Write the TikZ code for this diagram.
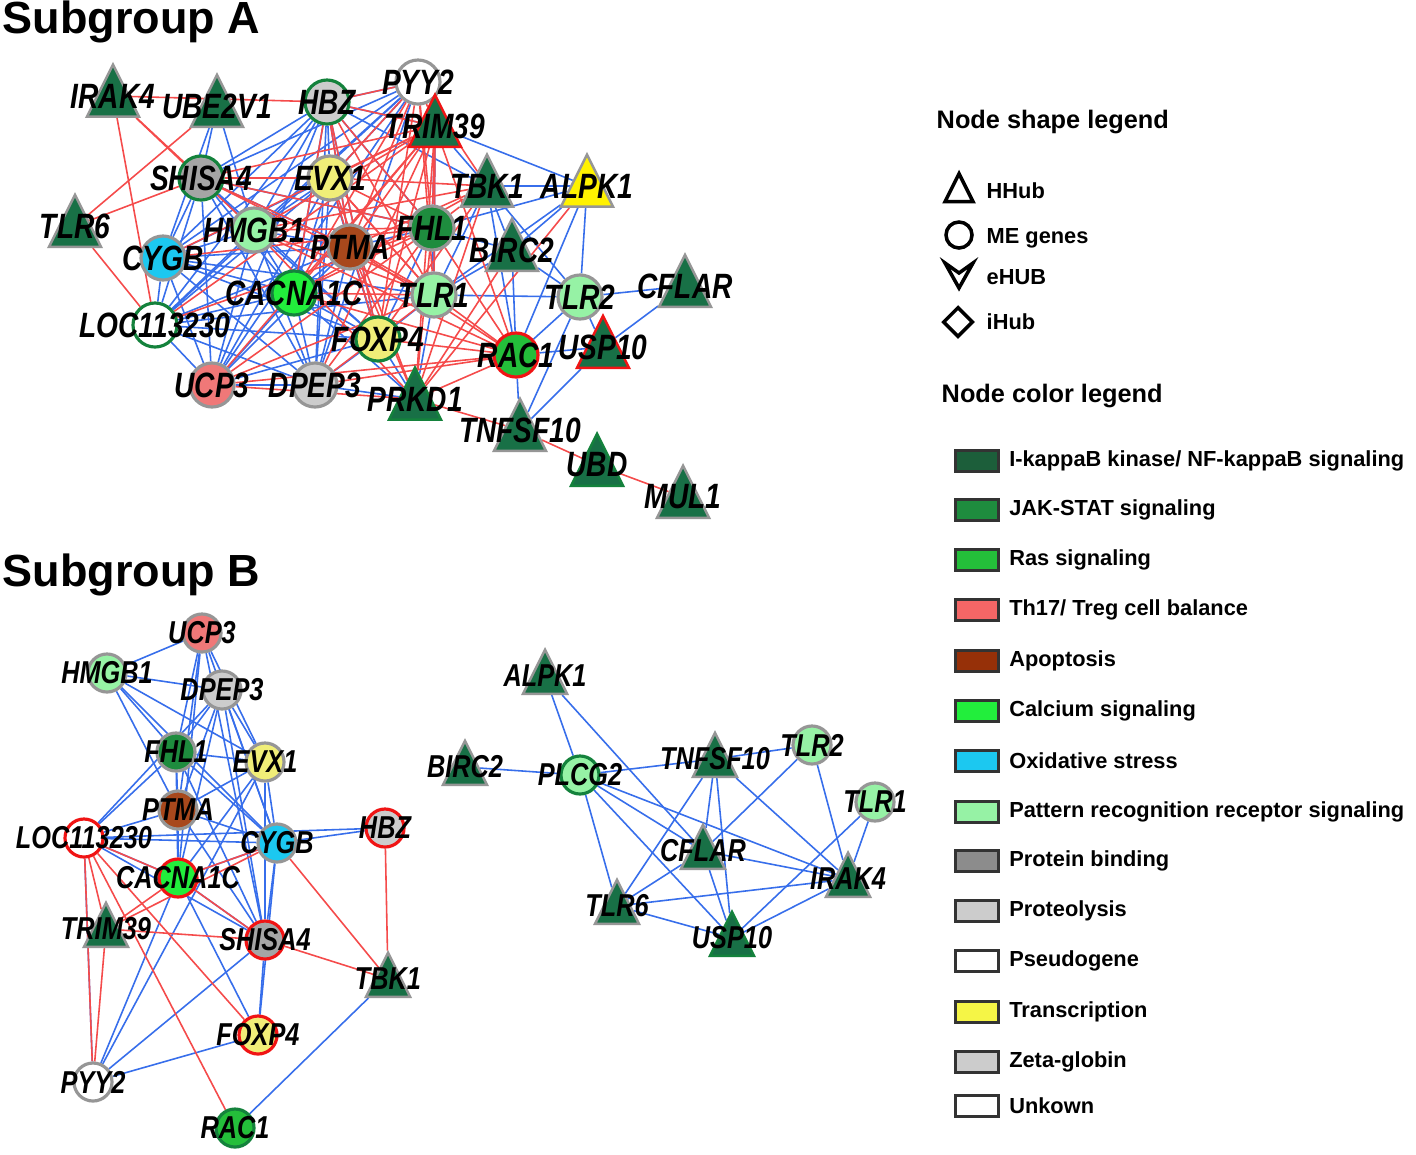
\documentclass[tikz,border=0pt]{standalone}
\usepackage{fontspec}
\setmainfont{Liberation Sans}
\newfontfamily\genefont{Liberation Sans}[FakeStretch=0.8]
\usepackage{tikz}
\usetikzlibrary{shapes.geometric,positioning,backgrounds}
\definecolor{cNFkB}{RGB}{28,94,58}
\definecolor{cJAK}{RGB}{30,140,62}
\definecolor{cRas}{RGB}{36,190,58}
\definecolor{cTh}{RGB}{244,102,102}
\definecolor{cApop}{RGB}{150,48,8}
\definecolor{cCalc}{RGB}{34,238,60}
\definecolor{cOxid}{RGB}{28,200,240}
\definecolor{cPRR}{RGB}{150,242,165}
\definecolor{cPBind}{RGB}{140,140,140}
\definecolor{cProt}{RGB}{204,204,204}
\definecolor{cTransc}{RGB}{245,245,70}
\definecolor{cHub}{RGB}{24,112,70}
\definecolor{cYel}{RGB}{240,238,120}
\definecolor{cBrown}{RGB}{168,72,28}
\definecolor{cSalmon}{RGB}{240,120,120}
\definecolor{cGrayA}{RGB}{204,204,204}
\definecolor{cGrayB}{RGB}{165,165,165}
\definecolor{bdGray}{RGB}{150,150,150}
\definecolor{bdGreen}{RGB}{20,130,60}
\definecolor{bdRed}{RGB}{240,20,20}
\definecolor{eBlue}{RGB}{55,110,235}
\definecolor{eRed}{RGB}{245,75,75}
\newcommand{\genA}{\genefont\bfseries\itshape\fontsize{10}{10}\selectfont}
\newcommand{\genB}{\genefont\bfseries\itshape\fontsize{9}{9}\selectfont}
\newcommand{\gname}[1]{\makebox[0pt]{#1}}
\tikzstyle{me}=[circle, inner sep=0pt, minimum size=0.44cm, line width=0.9pt, draw=bdGray, font=\genA]
\tikzstyle{meB}=[me, minimum size=0.38cm, font=\genB]
\tikzstyle{hub}=[isosceles triangle, isosceles triangle stretches, shape border rotate=90, inner sep=0pt, minimum width=0.52cm, minimum height=0.52cm, fill=cHub, draw=bdGray, line width=0.7pt, font=\genA]
\tikzstyle{hubB}=[hub, minimum width=0.44cm, minimum height=0.44cm, font=\genB]
\tikzstyle{bl}=[color=eBlue, line width=0.45pt]
\tikzstyle{rd}=[color=eRed, line width=0.45pt]
\tikzstyle{swatch}=[draw=black!80, line width=0.6pt, minimum width=0.43cm, minimum height=0.21cm, inner sep=0pt]
\tikzstyle{legtxt}=[inner sep=0pt, font=\bfseries\fontsize{6.2}{7}\selectfont]
\tikzstyle{legtitle}=[anchor=west, inner sep=0pt, font=\bfseries\fontsize{7.2}{8}\selectfont]
\tikzstyle{grouptitle}=[anchor=west, inner sep=0pt, font=\bfseries\fontsize{12.8}{14}\selectfont]
\begin{document}
\begin{tikzpicture}[x=0.01cm,y=-0.01cm]
\useasboundingbox (0,0) rectangle (1416,1154);
% subgroup A
\node[grouptitle] (tA) at (2,22) {Subgroup A};
\node[hub] (aIRAK4) at (113,96) {\gname{IRAK4}};
\node[hub] (aUBE2V1) at (217,106) {\gname{UBE2V1}};
\node[me, fill=cGrayA, draw=bdGreen] (aHBZ) at (327,102) {\gname{HBZ}};
\node[me, fill=white] (aPYY2) at (418,82) {\gname{PYY2}};
\node[hub, draw=bdRed] (aTRIM39) at (435,126) {\gname{TRIM39}};
\node[me, fill=cGrayB, draw=bdGreen] (aSHISA4) at (201,178) {\gname{SHISA4}};
\node[me, fill=cYel] (aEVX1) at (330,178) {\gname{EVX1}};
\node[hub] (aTBK1) at (487,186) {\gname{TBK1}};
\node[hub, fill=yellow] (aALPK1) at (587,186) {\gname{ALPK1}};
\node[hub] (aTLR6) at (75,226) {\gname{TLR6}};
\node[me, fill=cPRR] (aHMGB1) at (254,230) {\gname{HMGB1}};
\node[me, fill=cBrown] (aPTMA) at (350,247) {\gname{PTMA}};
\node[me, fill=cJAK] (aFHL1) at (432,228) {\gname{FHL1}};
\node[hub] (aBIRC2) at (512,250) {\gname{BIRC2}};
\node[me, fill=cOxid] (aCYGB) at (163,258) {\gname{CYGB}};
\node[me, fill=cCalc, draw=bdGreen] (aCACNA1C) at (294,293) {\gname{CACNA1C}};
\node[me, fill=cPRR] (aTLR1) at (434,295) {\gname{TLR1}};
\node[me, fill=cPRR] (aTLR2) at (580,297) {\gname{TLR2}};
\node[hub] (aCFLAR) at (685,286) {\gname{CFLAR}};
\node[me, fill=white, draw=bdGreen] (aLOC) at (155,325) {\gname{LOC113230}};
\node[me, fill=cYel, draw=bdGreen] (aFOXP4) at (378,339) {\gname{FOXP4}};
\node[me, fill=cRas, draw=bdRed] (aRAC1) at (516,355) {\gname{RAC1}};
\node[hub, draw=bdRed] (aUSP10) at (603,347) {\gname{USP10}};
\node[me, fill=cSalmon] (aUCP3) at (212,385) {\gname{UCP3}};
\node[me, fill=cGrayA] (aDPEP3) at (315,385) {\gname{DPEP3}};
\node[hub, draw=bdGreen] (aPRKD1) at (415,399) {\gname{PRKD1}};
\node[hub] (aTNFSF10) at (520,430) {\gname{TNFSF10}};
\node[hub, draw=bdGreen] (aUBD) at (597,465) {\gname{UBD}};
\node[hub] (aMUL1) at (683,497) {\gname{MUL1}};
% subgroup B
\node[grouptitle] (tB) at (2,575) {Subgroup B};
\node[meB, fill=cSalmon] (bUCP3) at (202,633) {\gname{UCP3}};
\node[meB, fill=cPRR] (bHMGB1) at (107,673) {\gname{HMGB1}};
\node[meB, fill=cGrayA] (bDPEP3) at (222,690) {\gname{DPEP3}};
\node[meB, fill=cJAK] (bFHL1) at (176,752) {\gname{FHL1}};
\node[meB, fill=cYel] (bEVX1) at (265,762) {\gname{EVX1}};
\node[meB, fill=cBrown] (bPTMA) at (178,810) {\gname{PTMA}};
\node[meB, fill=white, draw=bdRed] (bLOC) at (84,838) {\gname{LOC113230}};
\node[meB, fill=cOxid] (bCYGB) at (277,843) {\gname{CYGB}};
\node[meB, fill=cGrayA, draw=bdRed] (bHBZ) at (385,828) {\gname{HBZ}};
\node[meB, fill=cCalc, draw=bdRed] (bCACNA1C) at (178,878) {\gname{CACNA1C}};
\node[hubB] (bTRIM39) at (106,929) {\gname{TRIM39}};
\node[meB, fill=cGrayB, draw=bdRed] (bSHISA4) at (265,940) {\gname{SHISA4}};
\node[hubB] (bTBK1) at (388,979) {\gname{TBK1}};
\node[meB, fill=cYel, draw=bdRed] (bFOXP4) at (258,1035) {\gname{FOXP4}};
\node[meB, fill=white] (bPYY2) at (93,1082) {\gname{PYY2}};
\node[meB, fill=cRas, draw=bdGreen] (bRAC1) at (235,1128) {\gname{RAC1}};
\node[hubB] (bALPK1) at (545,676) {\gname{ALPK1}};
\node[hubB] (bBIRC2) at (465,767) {\gname{BIRC2}};
\node[meB, fill=cPRR, draw=bdGreen] (bPLCG2) at (580,775) {\gname{PLCG2}};
\node[hubB] (bTNFSF10) at (715,759) {\gname{TNFSF10}};
\node[meB, fill=cPRR] (bTLR2) at (812,745) {\gname{TLR2}};
\node[meB, fill=cPRR] (bTLR1) at (875,802) {\gname{TLR1}};
\node[hubB] (bCFLAR) at (703,851) {\gname{CFLAR}};
\node[hubB] (bIRAK4) at (848,879) {\gname{IRAK4}};
\node[hubB] (bTLR6) at (617,906) {\gname{TLR6}};
\node[hubB, draw=bdGreen] (bUSP10) at (732,938) {\gname{USP10}};
% legend
\node[legtitle] (tShape) at (936,122) {Node shape legend};
\node[draw, isosceles triangle, isosceles triangle stretches, shape border rotate=90, minimum width=0.28cm, minimum height=0.28cm, inner sep=0pt, line width=1pt] (kHHub) at (959,193) {};
\node[draw, circle, minimum size=0.26cm, inner sep=0pt, line width=1pt] (kME) at (959,235) {};
\coordinate (kEHUB) at (959,276);
\draw[line width=1pt] (945,263) -- (959,273) -- (973,263) -- (959,288) -- cycle;
\node[draw, diamond, minimum size=0.3cm, inner sep=0pt, line width=1pt] (kIHUB) at (958,322) {};
\node[legtxt, anchor=west] at (986,191) {HHub};
\node[legtxt, anchor=west] at (986,238) {ME genes};
\node[legtxt, anchor=west] at (986,277) {eHUB};
\node[legtxt, anchor=west] at (986,322) {iHub};
\node[legtitle] (tColor) at (941,396) {Node color legend};
\node[swatch, fill=cNFkB] (k1) at (977,461) {};
\node[swatch, fill=cJAK] (k2) at (977,510) {};
\node[swatch, fill=cRas] (k3) at (977,560) {};
\node[swatch, fill=cTh] (k4) at (977,610) {};
\node[swatch, fill=cApop] (k5) at (977,661) {};
\node[swatch, fill=cCalc] (k6) at (977,711) {};
\node[swatch, fill=cOxid] (k7) at (977,761) {};
\node[swatch, fill=cPRR] (k8) at (977,812) {};
\node[swatch, fill=cPBind] (k9) at (977,861) {};
\node[swatch, fill=cProt] (k10) at (977,911) {};
\node[swatch, fill=white] (k11) at (977,961) {};
\node[swatch, fill=cTransc] (k12) at (977,1012) {};
\node[swatch, fill=cProt] (k13) at (977,1062) {};
\node[swatch, fill=white] (k14) at (977,1106) {};
\node[legtxt, right=0.09cm of k1] {I-kappaB kinase/ NF-kappaB signaling};
\node[legtxt, right=0.09cm of k2] {JAK-STAT signaling};
\node[legtxt, right=0.09cm of k3] {Ras signaling};
\node[legtxt, right=0.09cm of k4] {Th17/ Treg cell balance};
\node[legtxt, right=0.09cm of k5] {Apoptosis};
\node[legtxt, right=0.09cm of k6] {Calcium signaling};
\node[legtxt, right=0.09cm of k7] {Oxidative stress};
\node[legtxt, right=0.09cm of k8] {Pattern recognition receptor signaling};
\node[legtxt, right=0.09cm of k9] {Protein binding};
\node[legtxt, right=0.09cm of k10] {Proteolysis};
\node[legtxt, right=0.09cm of k11] {Pseudogene};
\node[legtxt, right=0.09cm of k12] {Transcription};
\node[legtxt, right=0.09cm of k13] {Zeta-globin};
\node[legtxt, right=0.09cm of k14] {Unkown};
\begin{scope}[on background layer]
\fill[white] (0,0) rectangle (1416,1154);
% subgroup A, blue
\path[bl]
 (aHBZ) edge (aSHISA4) edge (aEVX1) edge (aHMGB1) edge (aPTMA) edge (aCYGB) edge (aCACNA1C) edge (aLOC) edge (aFOXP4) edge (aUCP3) edge (aDPEP3) edge (aTBK1) edge (aTRIM39)
 (aSHISA4) edge (aEVX1) edge (aHMGB1) edge (aPTMA) edge (aCYGB) edge (aCACNA1C) edge (aLOC) edge (aFOXP4) edge (aUCP3) edge (aDPEP3)
 (aEVX1) edge (aHMGB1) edge (aPTMA) edge (aCYGB) edge (aCACNA1C) edge (aLOC) edge (aFOXP4) edge (aUCP3) edge (aDPEP3)
 (aHMGB1) edge (aPTMA) edge (aCYGB) edge (aCACNA1C) edge (aLOC) edge (aFOXP4) edge (aUCP3) edge (aDPEP3)
 (aPTMA) edge (aCYGB) edge (aCACNA1C) edge (aLOC) edge (aFOXP4) edge (aUCP3) edge (aDPEP3)
 (aCYGB) edge (aCACNA1C) edge (aLOC) edge (aFOXP4) edge (aUCP3) edge (aDPEP3)
 (aCACNA1C) edge (aLOC) edge (aFOXP4) edge (aUCP3) edge (aDPEP3)
 (aLOC) edge (aFOXP4) edge (aUCP3) edge (aDPEP3)
 (aFOXP4) edge (aUCP3) edge (aDPEP3)
 (aUCP3) edge (aDPEP3)
 (aPYY2) edge (aHBZ) edge (aSHISA4) edge (aCYGB) edge (aLOC) edge (aHMGB1) edge (aEVX1) edge (aDPEP3) edge (aUCP3)
 (aFHL1) edge (aPTMA) edge (aTLR1) edge (aFOXP4) edge (aHBZ) edge (aSHISA4)
 (aTLR1) edge (aFOXP4) edge (aCYGB) edge (aLOC) edge (aTLR2) edge (aBIRC2) edge (aTBK1)
 (aUBE2V1) edge (aSHISA4) edge (aHMGB1) edge (aCYGB)
 (aTRIM39) edge (aTBK1) edge (aALPK1) edge (aTLR1) edge (aFHL1)
 (aTBK1) edge (aALPK1) edge (aBIRC2) edge (aTLR2) edge (aRAC1)
 (aALPK1) edge (aBIRC2) edge (aTLR2) edge (aTLR1) edge (aRAC1) edge (aFHL1)
 (aBIRC2) edge (aTLR2) edge (aRAC1) edge (aFHL1)
 (aTLR2) edge (aCFLAR) edge (aRAC1) edge (aUSP10) edge (aTNFSF10)
 (aCFLAR) edge (aUSP10)
 (aUSP10) edge (aRAC1) edge (aTNFSF10)
 (aTNFSF10) edge (aRAC1)
 (aPRKD1) edge (aFOXP4) edge (aDPEP3) edge (aCACNA1C) edge (aTLR1);
% subgroup A, red
\path[rd]
 (aTRIM39) edge (aHBZ) edge (aPYY2) edge (aSHISA4) edge (aEVX1) edge (aHMGB1) edge (aPTMA) edge (aCYGB) edge (aCACNA1C) edge (aLOC) edge (aFOXP4) edge (aUCP3) edge (aDPEP3) edge (aFHL1) edge (aTLR1) edge (aPRKD1) edge (aRAC1)
 (aPYY2) edge (aHBZ) edge (aEVX1) edge (aPTMA) edge (aFHL1) edge (aTLR1) edge (aCACNA1C) edge (aFOXP4) edge (aTBK1)
 (aFHL1) edge (aSHISA4) edge (aHMGB1) edge (aCYGB) edge (aLOC) edge (aUCP3) edge (aDPEP3) edge (aCACNA1C) edge (aEVX1) edge (aHBZ)
 (aTLR1) edge (aHMGB1) edge (aCACNA1C) edge (aUCP3) edge (aDPEP3) edge (aPTMA) edge (aEVX1) edge (aSHISA4)
 (aPRKD1) edge (aFHL1) edge (aPTMA) edge (aEVX1) edge (aHMGB1) edge (aBIRC2) edge (aALPK1) edge (aTBK1) edge (aTNFSF10) edge (aUCP3) edge (aRAC1)
 (aRAC1) edge (aFOXP4) edge (aDPEP3) edge (aPTMA) edge (aTLR1) edge (aFHL1) edge (aCACNA1C) edge (aUCP3) edge (aHMGB1)
 (aTBK1) edge (aFHL1) edge (aPTMA) edge (aEVX1) edge (aFOXP4) edge (aHMGB1) edge (aCACNA1C)
 (aHBZ) edge (aPTMA) edge (aFOXP4) edge (aCACNA1C) edge (aTLR1)
 (aSHISA4) edge (aEVX1) edge (aPTMA)
 (aEVX1) edge (aFOXP4) edge (aTLR1)
 (aIRAK4) edge (aSHISA4) edge (aHMGB1) edge (aLOC) edge (aHBZ)
 (aUBE2V1) edge (aTLR6)
 (aTLR6) edge (aSHISA4) edge (aLOC)
 (aTNFSF10) edge (aUBD)
 (aUBD) edge (aMUL1);
% subgroup B
\path[bl]
 (bUCP3) edge (bHMGB1) edge (bFHL1) edge (bPTMA) edge (bCACNA1C) edge (bEVX1) edge (bCYGB) edge (bSHISA4)
 (bHMGB1) edge (bDPEP3) edge (bFHL1) edge (bPTMA) edge (bEVX1) edge (bCYGB)
 (bDPEP3) edge (bFHL1) edge (bPTMA) edge (bCACNA1C) edge (bEVX1) edge (bCYGB) edge (bSHISA4) edge (bLOC)
 (bFHL1) edge (bEVX1) edge (bPTMA) edge (bLOC) edge (bCYGB) edge (bCACNA1C) edge (bSHISA4)
 (bEVX1) edge (bPTMA) edge (bCACNA1C) edge (bCYGB) edge (bSHISA4) edge (bPYY2)
 (bPTMA) edge (bLOC) edge (bCYGB) edge (bCACNA1C) edge (bSHISA4)
 (bLOC) edge (bCYGB) edge (bHBZ) edge (bCACNA1C) edge (bPYY2) edge (bSHISA4)
 (bCYGB) edge (bHBZ) edge (bCACNA1C) edge (bSHISA4) edge (bFOXP4)
 (bCACNA1C) edge (bSHISA4) edge (bPYY2) edge (bFOXP4)
 (bSHISA4) edge (bFOXP4) edge (bPYY2)
 (bFOXP4) edge (bPYY2)
 (bTBK1) edge (bRAC1)
 (bALPK1) edge (bPLCG2) edge (bCFLAR)
 (bBIRC2) edge (bPLCG2)
 (bPLCG2) edge (bTNFSF10) edge (bTLR6) edge (bUSP10) edge (bCFLAR) edge (bIRAK4)
 (bTNFSF10) edge (bTLR2) edge (bTLR6) edge (bCFLAR) edge (bUSP10) edge (bIRAK4)
 (bTLR2) edge (bCFLAR) edge (bIRAK4)
 (bTLR1) edge (bIRAK4) edge (bUSP10)
 (bCFLAR) edge (bIRAK4) edge (bTLR6) edge (bUSP10)
 (bTLR6) edge (bIRAK4) edge (bUSP10)
 (bIRAK4) edge (bUSP10);
\path[rd]
 (bLOC) edge (bCACNA1C) edge (bTRIM39) edge (bFOXP4) edge (bRAC1) edge (bPYY2)
 (bCACNA1C) edge (bTRIM39) edge (bSHISA4) edge (bCYGB)
 (bCYGB) edge (bTRIM39) edge (bTBK1)
 (bTRIM39) edge (bSHISA4) edge (bPYY2)
 (bSHISA4) edge (bTBK1)
 (bHBZ) edge (bTBK1);
\end{scope}
\end{tikzpicture}
\end{document}
